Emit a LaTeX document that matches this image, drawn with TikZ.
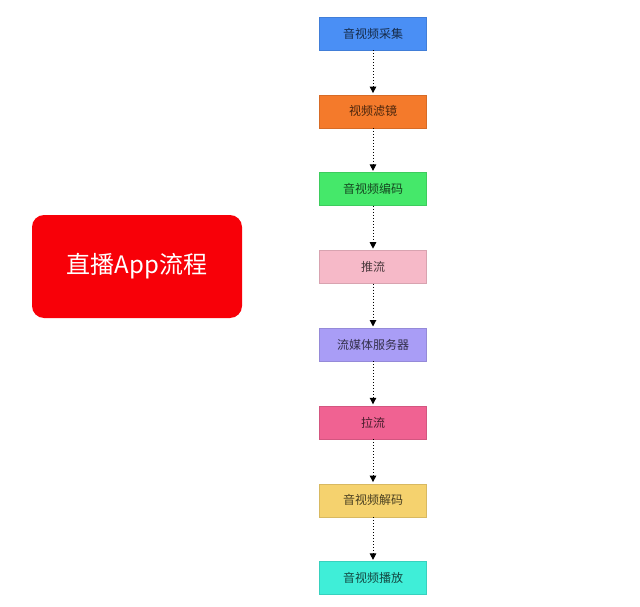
\documentclass[tikz,border=0pt]{standalone}
\usepackage{fontspec}
\setmainfont{Noto Sans CJK SC}
\usepackage{tikz}
\usetikzlibrary{arrows.meta,shadows}

\definecolor{capblue}{HTML}{4A8FF5}
\definecolor{filtorange}{HTML}{F47A2B}
\definecolor{encgreen}{HTML}{45E86A}
\definecolor{pushpink}{HTML}{F6B9C8}
\definecolor{srvpurple}{HTML}{A99DF6}
\definecolor{pullpink}{HTML}{F06292}
\definecolor{decyellow}{HTML}{F5D26E}
\definecolor{playcyan}{HTML}{3FEED8}
\definecolor{titlered}{HTML}{F80008}

\tikzset{
    stepbox/.style={line width=0.4pt, minimum width=107pt, minimum height=33pt,
        font=\fontsize{12}{14}\selectfont, inner sep=0pt,
        drop shadow={opacity=0.2, shadow xshift=0.8pt, shadow yshift=-0.8pt}},
    flow/.style={dotted, line width=1pt, -{Triangle[width=6.5pt,length=6.5pt]}, shorten >=1.5pt}
}

\begin{document}
\begin{tikzpicture}[x=1pt,y=-1pt]
    \useasboundingbox (0,0) rectangle (640,607);

    % Title box on the left:
    \node (title) at (137,266.5) [fill=titlered, rounded corners=12pt, minimum width=210pt,
        minimum height=103pt, text=white, font=\fontsize{24}{28}\selectfont] {直播App流程};

    % Steps of the pipeline, top to bottom:
    \foreach \name/\col/\txt [count=\i from 0] in {
            cap/capblue/音视频采集, filt/filtorange/视频滤镜, enc/encgreen/音视频编码,
            push/pushpink/推流, srv/srvpurple/流媒体服务器, pull/pullpink/拉流,
            dec/decyellow/音视频解码, play/playcyan/音视频播放}
        \node (\name) at (373, 33.5+77.8*\i)
            [stepbox, fill=\col, draw=\col!88!black, text=\col!30!black] {\txt};

    % Dotted arrows between the steps:
    \foreach \a/\b in {cap/filt, filt/enc, enc/push, push/srv, srv/pull, pull/dec, dec/play}
        \draw [flow] (\a) -- (\b);
\end{tikzpicture}
\end{document}
